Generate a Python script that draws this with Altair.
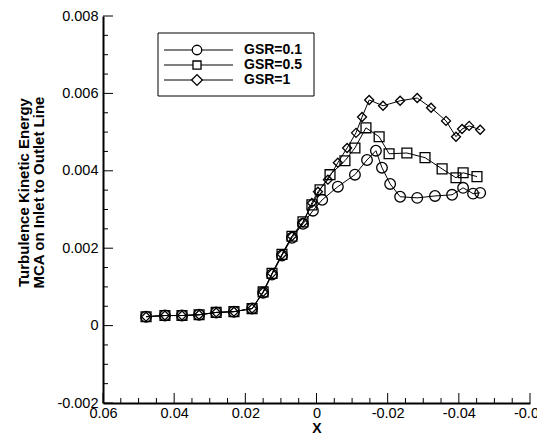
import altair as alt
import pandas as pd

# ---------------- data ----------------
series_names = ["GSR=0.1", "GSR=0.5", "GSR=1"]
series_shapes = ["circle", "square", "diamond"]
series_sizes = [113, 81, 144]

x_gsr01 = [0.0479, 0.0426, 0.0378, 0.0330, 0.0282, 0.0232, 0.0181, 0.0150, 0.0125,
           0.0097, 0.0069, 0.0038, 0.0010, -0.0016, -0.0060, -0.0108, -0.0142,
           -0.0167, -0.0184, -0.0207, -0.0235, -0.0283, -0.0333, -0.0381, -0.0412,
           -0.0440, -0.0460]
y_gsr01 = [0.00023, 0.00026, 0.00026, 0.00028, 0.00034, 0.00036, 0.00044, 0.00085,
           0.00132, 0.00181, 0.00227, 0.00263, 0.00297, 0.00325, 0.00359, 0.00390,
           0.00428, 0.00452, 0.00408, 0.00366, 0.00333, 0.00330, 0.00335, 0.00338,
           0.00356, 0.00341, 0.00343]

x_gsr05 = [0.0479, 0.0426, 0.0378, 0.0330, 0.0282, 0.0232, 0.0181, 0.0150, 0.0125,
           0.0097, 0.0069, 0.0038, 0.0013, -0.0010, -0.0038, -0.0080, -0.0108,
           -0.0139, -0.0176, -0.0204, -0.0254, -0.0305, -0.0353, -0.0392, -0.0412,
           -0.0451]
y_gsr05 = [0.00023, 0.00026, 0.00026, 0.00028, 0.00034, 0.00036, 0.00044, 0.00087,
           0.00135, 0.00184, 0.00231, 0.00268, 0.00312, 0.00351, 0.00390, 0.00426,
           0.00459, 0.00511, 0.00488, 0.00444, 0.00446, 0.00434, 0.00405, 0.00382,
           0.00395, 0.00385]

x_gsr1 = [0.0479, 0.0426, 0.0378, 0.0330, 0.0282, 0.0232, 0.0181, 0.0150, 0.0125,
          0.0097, 0.0069, 0.0038, 0.0013, -0.0004, -0.0032, -0.0060, -0.0086,
          -0.0111, -0.0128, -0.0148, -0.0187, -0.0235, -0.0283, -0.0322, -0.0364,
          -0.0392, -0.0409, -0.0429, -0.0460]
y_gsr1 = [0.00023, 0.00026, 0.00026, 0.00028, 0.00034, 0.00036, 0.00044, 0.00087,
          0.00135, 0.00184, 0.00231, 0.00266, 0.00317, 0.00346, 0.00377, 0.00421,
          0.00459, 0.00498, 0.00539, 0.00583, 0.00568, 0.00581, 0.00588, 0.00563,
          0.00529, 0.00488, 0.00508, 0.00516, 0.00506]

# axis tick values
x_major = [0.06, 0.04, 0.02, 0.0, -0.02, -0.04, -0.06]
x_minor = [0.055, 0.05, 0.045, 0.035, 0.03, 0.025, 0.015, 0.01, 0.005,
           -0.005, -0.01, -0.015, -0.025, -0.03, -0.035, -0.045, -0.05, -0.055]
y_major = [-0.002, 0.0, 0.002, 0.004, 0.006, 0.008]
y_minor = [-0.0015, -0.001, -0.0005, 0.0005, 0.001, 0.0015, 0.0025, 0.003, 0.0035,
           0.0045, 0.005, 0.0055, 0.0065, 0.007, 0.0075]

# ---------------- build tables ----------------
rows = []
for name, xs, ys in zip(series_names, [x_gsr01, x_gsr05, x_gsr1], [y_gsr01, y_gsr05, y_gsr1]):
    for i, (xv, yv) in enumerate(zip(xs, ys)):
        rows.append({"series": name, "x": xv, "y": yv, "idx": i})
df = pd.DataFrame(rows)

W, H = 427, 387
FONT = "Liberation Sans"

xscale = alt.Scale(domain=[-0.06, 0.06], reverse=True, nice=False, zero=False)
yscale = alt.Scale(domain=[-0.002, 0.008], nice=False, zero=False)

x_axis = alt.Axis(
    values=x_major, ticks=False, grid=False, domainWidth=2, domainColor="black",
    labelExpr="datum.value == 0 ? '0' : (datum.value < 0 ? '-' : '') + format(abs(datum.value), '.2f')",
    labelFont=FONT, labelFontSize=14.5, labelColor="black", labelPadding=3,
    labelFlush=False, labelOverlap=False,
    title="X", titleFont=FONT, titleFontSize=14, titleFontWeight="bold", titleColor="black",
    titleX=W / 2, titleY=25, titleBaseline="middle", titleAlign="center",
)
y_axis = alt.Axis(
    values=y_major, ticks=False, grid=False, domainWidth=2, domainColor="black",
    labelExpr="datum.value == 0 ? '0' : (datum.value < 0 ? '-' : '') + format(abs(datum.value), '.3f')",
    labelFont=FONT, labelFontSize=14.5, labelColor="black", labelPadding=5,
    labelFlush=False, labelOverlap=False,
    title=["Turbulence Kinetic Energy", "MCA on Inlet to Outlet Line"],
    titleFont=FONT, titleFontSize=15, titleFontWeight="bold", titleColor="black",
    titleLineHeight=15, titleX=-72, titleY=176, titleAngle=-90,
    titleAlign="center", titleBaseline="bottom",
)


def X():
    return alt.X("x:Q", scale=xscale, axis=x_axis)


def Y():
    return alt.Y("y:Q", scale=yscale, axis=y_axis)


lines = alt.Chart(df).mark_line(color="black", strokeWidth=1).encode(
    x=X(), y=Y(), detail="series:N", order="idx:Q"
)

points = alt.Chart(df).mark_point(filled=False, color="black", strokeWidth=1.3, opacity=1).encode(
    x=X(), y=Y(),
    shape=alt.Shape("series:N", scale=alt.Scale(domain=series_names, range=series_shapes), legend=None),
    size=alt.Size("series:N", scale=alt.Scale(domain=series_names, range=series_sizes), legend=None),
)

# inward ticks
ymaj = alt.Chart(pd.DataFrame({"y": y_major})).mark_rule(color="black", strokeWidth=1).encode(
    y=Y(), x=alt.value(0), x2=alt.value(10))
ymin = alt.Chart(pd.DataFrame({"y": y_minor})).mark_rule(color="black", strokeWidth=1).encode(
    y=Y(), x=alt.value(0), x2=alt.value(5))
xmaj = alt.Chart(pd.DataFrame({"x": x_major})).mark_rule(color="black", strokeWidth=1).encode(
    x=X(), y=alt.value(H), y2=alt.value(H - 10))
xmin = alt.Chart(pd.DataFrame({"x": x_minor})).mark_rule(color="black", strokeWidth=1).encode(
    x=X(), y=alt.value(H), y2=alt.value(H - 5))

# legend (manual, Tecplot style)
one = alt.Data(values=[{}])
legend_layers = [
    alt.Chart(one).mark_rect(fill="white", stroke="black", strokeWidth=1).encode(
        x=alt.value(55), x2=alt.value(211), y=alt.value(17), y2=alt.value(80))
]
row_y = [34, 49, 64]
for name, shp, sz, ry in zip(series_names, series_shapes, series_sizes, row_y):
    legend_layers.append(alt.Chart(one).mark_rule(color="black", strokeWidth=1).encode(
        x=alt.value(61), x2=alt.value(130), y=alt.value(ry)))
    legend_layers.append(alt.Chart(one).mark_point(
        filled=True, fill="white", stroke="black", strokeWidth=1.3, opacity=1,
        shape=shp, size=sz * 0.8).encode(x=alt.value(94), y=alt.value(ry)))
    legend_layers.append(alt.Chart(one).mark_text(
        text=name, align="left", baseline="middle", font=FONT, fontSize=14,
        fontWeight="bold", color="black").encode(x=alt.value(141), y=alt.value(ry)))

chart = alt.layer(lines, points, ymaj, ymin, xmaj, xmin, *legend_layers).properties(
    width=W, height=H,
    padding={"left": 95, "top": 8, "right": 7, "bottom": 31},
    autosize=alt.AutoSizeParams(type="none"),
    background="white",
).configure_view(stroke=None)

chart.save("out.html", embed_options={"renderer": "svg", "actions": False})
